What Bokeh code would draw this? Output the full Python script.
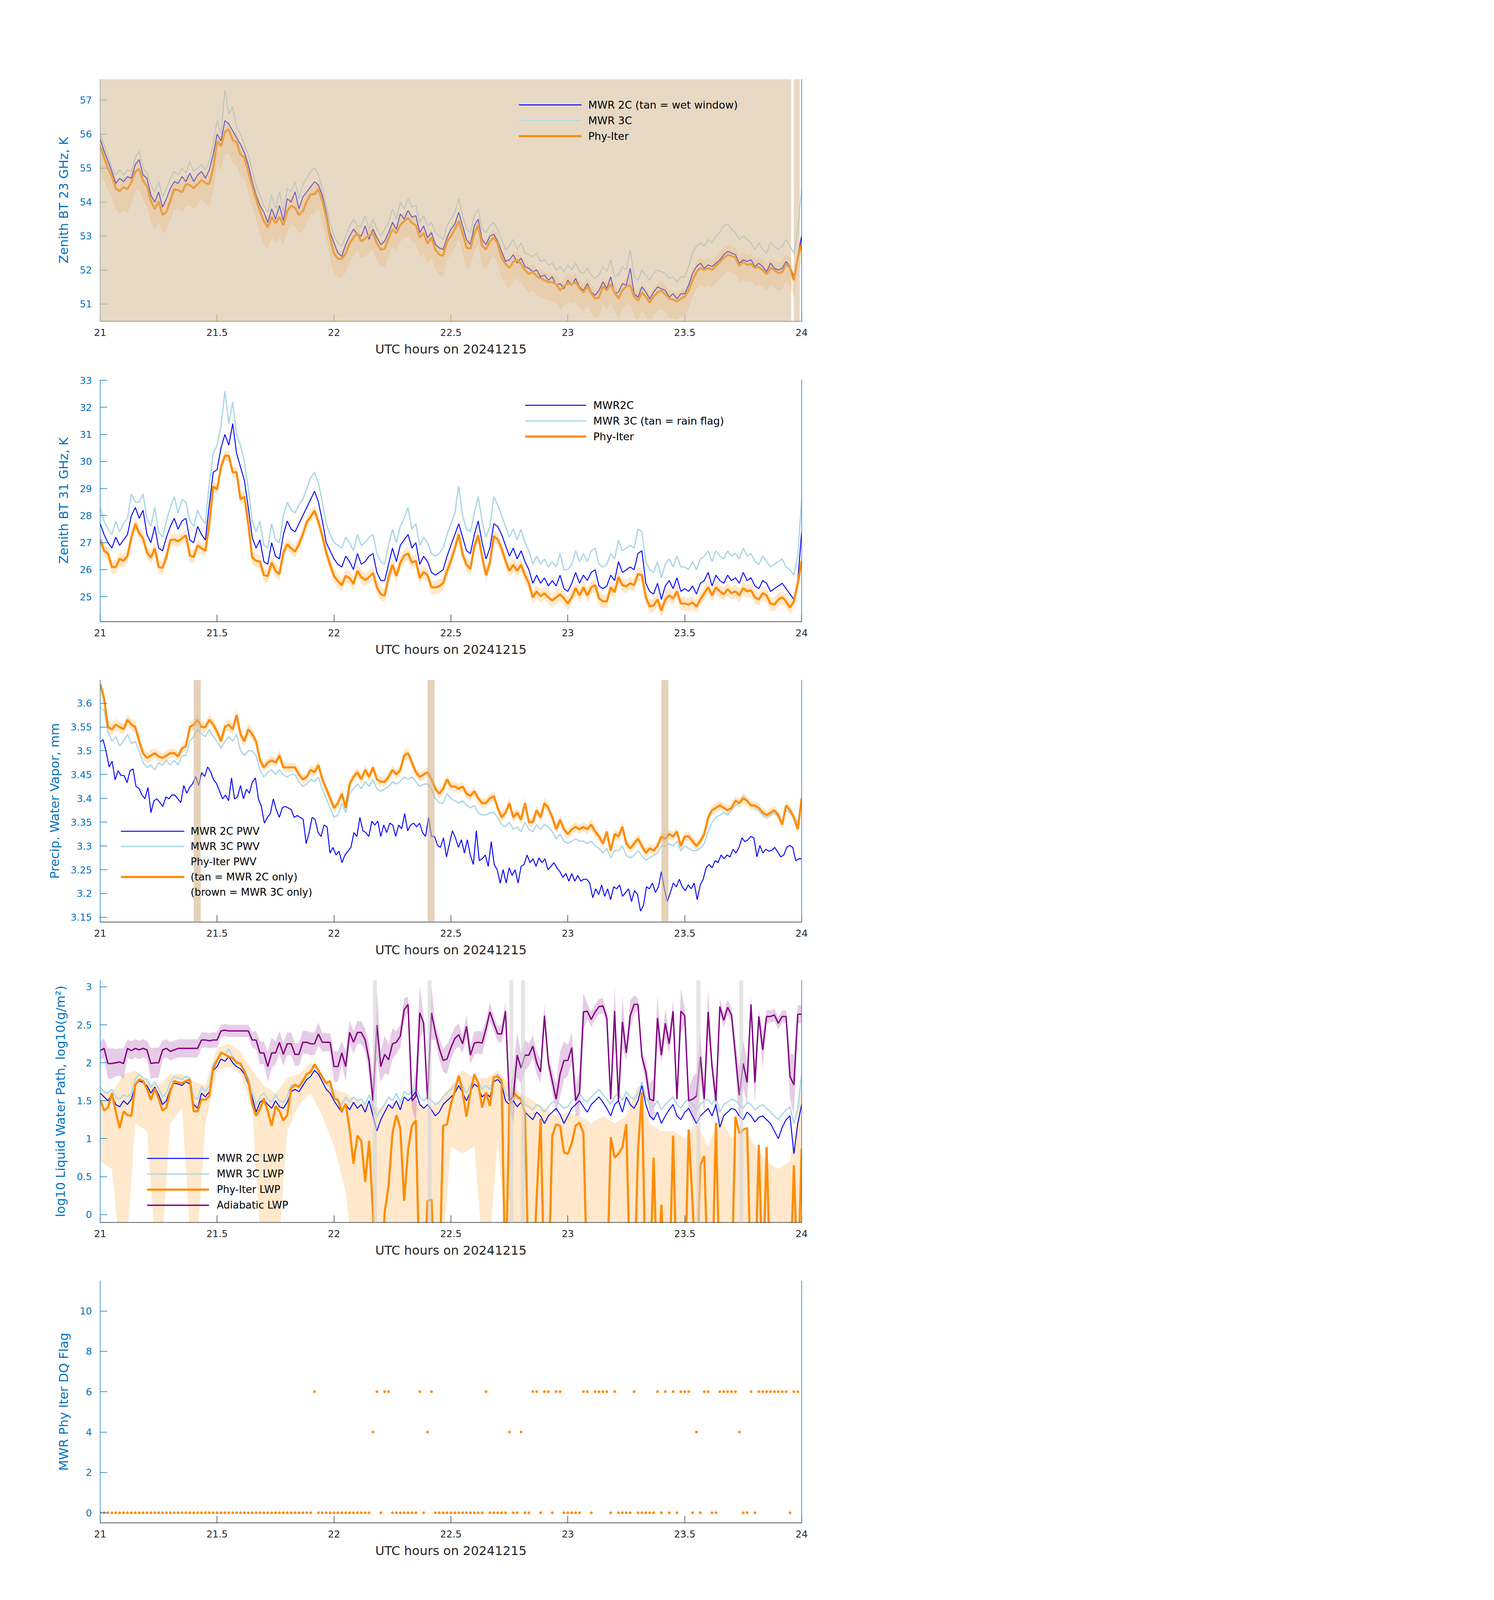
import numpy as np
from bokeh.plotting import figure
from bokeh.models import (Range1d, LinearAxis, FixedTicker, NumeralTickFormatter,
                          Legend, LegendItem, BoxAnnotation)
from bokeh.layouts import column
from bokeh.embed import file_html
from bokeh.resources import INLINE

# ======================= DATA =======================
x_ticks = [21, 21.5, 22, 22.5, 23, 23.5, 24]
x_label = "UTC hours on 20241215"

# ---- panel 1: 23 GHz brightness temperature (K), 1-min samples ----
bt23_phy = [
    55.64, 55.31, 55.0, 54.77, 54.4, 54.32, 54.44, 54.38, 54.59, 54.89,
    54.98, 54.62, 54.47, 54.04, 53.8, 54.02, 53.62, 53.71, 54.04, 54.38,
    54.35, 54.29, 54.53, 54.5, 54.41, 54.53, 54.65, 54.56, 54.53, 55.0,
    55.79, 55.64, 56.06, 56.14, 55.82, 55.77, 55.4, 55.31, 54.89, 54.47,
    54.1, 53.74, 53.44, 53.26, 53.56, 53.38, 53.56, 53.32, 53.74, 53.89,
    53.83, 53.62, 53.74, 54.02, 54.23, 54.23, 54.38, 54.04, 53.56, 52.96,
    52.48, 52.33, 52.33, 52.48, 52.78, 52.96, 53.08, 52.84, 52.93, 53.02,
    53.08, 52.78, 52.6, 52.63, 52.93, 53.2, 53.08, 53.32, 53.44, 53.53,
    53.38, 53.32, 52.96, 53.08, 52.78, 52.96, 52.6, 52.45, 52.42, 52.84,
    52.99, 53.2, 53.44, 53.08, 52.66, 52.63, 53.08, 53.32, 52.72, 52.6,
    52.84, 52.96, 52.78, 52.36, 52.18, 52.06, 52.24, 52.3, 52.18, 52.0,
    51.88, 51.94, 51.82, 51.76, 51.7, 51.64, 51.64, 51.58, 51.4, 51.52,
    51.61, 51.58, 51.64, 51.46, 51.34, 51.52, 51.31, 51.16, 51.19, 51.52,
    51.4, 51.58, 51.34, 51.16, 51.4, 51.52, 51.55, 51.22, 51.1, 51.34,
    51.22, 51.04, 51.22, 51.34, 51.4, 51.28, 51.16, 51.13, 51.07, 51.16,
    51.22, 51.4, 51.7, 51.94, 52.06, 52.0, 52.06, 52.0, 52.12, 52.24,
    52.36, 52.45, 52.42, 52.36, 52.12, 52.24, 52.15, 52.18, 52.06, 52.09,
    52.0, 51.88, 52.06, 52.0, 51.91, 51.94, 52.18, 52.06, 51.7, 52.36,
    52.78]
bt23_phy_lo = [
    0.75, 0.7, 0.65, 0.6, 0.6, 0.65, 0.7, 0.7, 0.65, 0.6,
    0.6, 0.6, 0.6, 0.6, 0.65, 0.6, 0.55, 0.55, 0.6, 0.6,
    0.55, 0.6, 0.65, 0.6, 0.6, 0.6, 0.55, 0.6, 0.65, 0.7,
    0.7, 0.7, 0.65, 0.7, 0.7, 0.7, 0.65, 0.6, 0.6, 0.6,
    0.6, 0.65, 0.7, 0.65, 0.6, 0.6, 0.6, 0.6, 0.6, 0.55,
    0.55, 0.55, 0.6, 0.6, 0.6, 0.55, 0.55, 0.6, 0.6, 0.6,
    0.6, 0.57, 0.55, 0.55, 0.55, 0.55, 0.5, 0.5, 0.55, 0.5,
    0.5, 0.5, 0.5, 0.55, 0.55, 0.5, 0.5, 0.5, 0.5, 0.55,
    0.55, 0.55, 0.6, 0.6, 0.6, 0.6, 0.6, 0.6, 0.6, 0.55,
    0.55, 0.55, 0.55, 0.6, 0.6, 0.55, 0.5, 0.55, 0.6, 0.6,
    0.55, 0.55, 0.6, 0.6, 0.6, 0.6, 0.55, 0.55, 0.55, 0.55,
    0.55, 0.55, 0.55, 0.55, 0.55, 0.55, 0.56, 0.56, 0.56, 0.56,
    0.56, 0.56, 0.56, 0.56, 0.58, 0.58, 0.58, 0.58, 0.56, 0.56,
    0.56, 0.56, 0.58, 0.58, 0.56, 0.56, 0.56, 0.58, 0.58, 0.56,
    0.55, 0.55, 0.55, 0.55, 0.55, 0.55, 0.55, 0.55, 0.55, 0.55,
    0.55, 0.55, 0.5, 0.5, 0.5, 0.5, 0.5, 0.5, 0.5, 0.5,
    0.5, 0.5, 0.5, 0.5, 0.52, 0.52, 0.5, 0.5, 0.52, 0.52,
    0.5, 0.5, 0.5, 0.52, 0.52, 0.5, 0.5, 0.5, 0.52, 0.5,
    0.5]
bt23_phy_hi = [
    0.45, 0.4, 0.35, 0.3, 0.3, 0.3, 0.3, 0.3, 0.3, 0.3,
    0.3, 0.3, 0.28, 0.28, 0.3, 0.3, 0.3, 0.28, 0.28, 0.3,
    0.3, 0.3, 0.28, 0.3, 0.3, 0.3, 0.28, 0.3, 0.3, 0.3,
    0.3, 0.3, 0.25, 0.25, 0.25, 0.25, 0.3, 0.3, 0.3, 0.3,
    0.28, 0.28, 0.28, 0.28, 0.28, 0.28, 0.28, 0.28, 0.28, 0.28,
    0.28, 0.28, 0.28, 0.28, 0.28, 0.28, 0.28, 0.28, 0.28, 0.28,
    0.25, 0.25, 0.25, 0.25, 0.25, 0.25, 0.25, 0.25, 0.25, 0.25,
    0.25, 0.25, 0.25, 0.25, 0.25, 0.25, 0.25, 0.25, 0.25, 0.25,
    0.25, 0.25, 0.25, 0.25, 0.25, 0.25, 0.25, 0.25, 0.25, 0.25,
    0.25, 0.25, 0.25, 0.25, 0.25, 0.25, 0.25, 0.25, 0.25, 0.25,
    0.25, 0.25, 0.25, 0.25, 0.25, 0.25, 0.25, 0.25, 0.25, 0.25,
    0.25, 0.25, 0.25, 0.25, 0.25, 0.25, 0.25, 0.25, 0.25, 0.25,
    0.25, 0.25, 0.25, 0.25, 0.25, 0.25, 0.25, 0.25, 0.25, 0.25,
    0.25, 0.25, 0.25, 0.25, 0.25, 0.25, 0.25, 0.25, 0.25, 0.25,
    0.25, 0.25, 0.25, 0.25, 0.25, 0.25, 0.25, 0.25, 0.25, 0.25,
    0.25, 0.25, 0.3, 0.3, 0.3, 0.3, 0.3, 0.3, 0.3, 0.3,
    0.3, 0.3, 0.3, 0.3, 0.3, 0.3, 0.3, 0.3, 0.3, 0.3,
    0.3, 0.3, 0.3, 0.3, 0.3, 0.3, 0.3, 0.3, 0.3, 0.3,
    0.3]
bt23_mwr2c = [
    55.85, 55.5, 55.2, 54.9, 54.55, 54.7, 54.6, 54.75, 54.7, 55.1,
    55.25, 54.8, 54.7, 54.2, 54.0, 54.3, 53.85, 54.1, 54.4, 54.6,
    54.55, 54.75, 54.6, 54.85, 54.6, 54.8, 54.9, 54.7, 54.95, 55.4,
    56.0, 55.8, 56.4, 56.3, 56.1, 55.9, 55.7, 55.45, 55.1, 54.6,
    54.2, 53.9, 53.7, 53.4, 53.8, 53.5, 53.9, 53.45, 54.1, 54.0,
    54.3, 53.8, 54.15, 54.3, 54.45, 54.6, 54.5, 54.2, 53.7, 53.1,
    52.8, 52.5, 52.4, 52.75, 53.0, 53.2, 53.05, 53.0, 53.3, 52.9,
    53.2, 52.95, 52.75, 52.85, 53.1, 53.4, 53.2, 53.65, 53.5, 53.75,
    53.55, 53.6, 53.1, 53.3, 52.95, 53.1, 52.75, 52.65, 52.6, 52.95,
    53.2, 53.35, 53.7, 53.3, 52.9, 52.75, 53.3, 53.5, 52.9, 52.75,
    53.0, 53.05, 52.85, 52.55, 52.25, 52.3, 52.45, 52.2, 52.35, 52.1,
    52.05, 51.95, 52.0, 51.8, 51.85, 51.7, 51.8, 51.55, 51.6, 51.45,
    51.7, 51.55, 51.75, 51.5, 51.4, 51.6, 51.35, 51.25, 51.4, 51.65,
    51.45, 51.8, 51.3, 51.35, 51.6, 51.55, 52.05, 51.3, 51.2, 51.5,
    51.35, 51.15, 51.35, 51.5, 51.45, 51.4, 51.2, 51.3, 51.15, 51.3,
    51.3, 51.55, 51.9, 52.1, 52.2, 52.05, 52.15, 52.1, 52.2, 52.3,
    52.45, 52.55, 52.5, 52.45, 52.2, 52.3, 52.25, 52.3, 52.1, 52.2,
    52.1, 51.95, 52.2, 52.05, 52.0, 52.05, 52.25, 52.1, 51.8, 52.4,
    53.0]
bt23_mwr3c = [
    56.0, 55.7, 55.35, 55.0, 54.8, 54.95, 54.8, 54.95, 54.9, 55.3,
    55.5, 55.0, 54.85, 54.5, 54.3, 54.6, 54.15, 54.4, 54.7, 54.9,
    54.8, 55.0, 54.85, 55.2, 54.9, 55.0, 55.1, 54.95, 55.2, 55.7,
    56.4, 56.0, 57.3, 56.6, 56.8, 56.2, 56.0, 55.7, 55.4, 54.9,
    54.5, 54.2, 53.9, 53.7, 54.2, 53.8, 54.3, 53.7, 54.4, 54.3,
    54.6, 54.1, 54.5, 54.7, 54.9, 55.0, 54.8, 54.4, 53.9, 53.4,
    53.0, 52.8, 52.7, 53.0, 53.3, 53.5, 53.3, 53.3, 53.6, 53.2,
    53.5, 53.2, 53.0, 53.2, 53.4, 53.8, 53.5, 54.0, 53.8, 54.1,
    53.85, 53.9, 53.4, 53.6, 53.3, 53.4, 53.1, 53.0, 52.9, 53.3,
    53.5, 53.7, 54.1, 53.6, 53.2, 53.1, 53.6, 53.8, 53.2, 53.1,
    53.3, 53.4, 53.2, 52.9, 52.6, 52.7, 52.9, 52.6, 52.8, 52.5,
    52.45, 52.4, 52.5, 52.25, 52.3, 52.15, 52.2, 52.0, 52.1, 51.95,
    52.15, 52.0, 52.2, 51.95, 51.9, 52.05, 51.85, 51.75, 51.85, 52.1,
    51.95, 52.3, 51.8, 51.85, 52.1, 52.0, 52.6, 51.8, 51.7, 52.0,
    51.85, 51.7, 51.9, 52.0, 51.95, 51.9, 51.75, 51.8, 51.65, 51.8,
    51.8, 52.1, 52.5, 52.7, 52.8, 52.7, 52.9, 52.8, 53.0, 53.1,
    53.3, 53.35, 53.2, 53.1, 52.9, 53.0, 52.9, 52.8, 52.6, 52.8,
    52.6, 52.5, 52.8, 52.7, 52.6, 52.7, 52.9, 52.7, 52.5, 53.2,
    54.4]
wet_start = [21.0, 23.966]
wet_end = [23.955, 23.992]

# ---- panel 2: 31 GHz brightness temperature (K), 1-min samples ----
bt31_phy = [
    27.12, 26.7, 26.6, 26.1, 26.1, 26.4, 26.33, 26.5, 27.2, 27.69,
    27.35, 27.16, 26.63, 26.45, 26.79, 26.1, 26.07, 26.48, 27.09, 27.12,
    27.05, 27.16, 27.27, 26.52, 26.48, 26.9, 26.79, 26.7, 27.69, 29.08,
    28.97, 29.8, 30.21, 30.21, 29.6, 29.6, 28.6, 28.7, 27.69, 26.45,
    26.33, 26.3, 25.8, 25.77, 26.26, 25.96, 25.84, 26.63, 26.94, 26.79,
    26.67, 26.94, 27.31, 27.76, 27.95, 28.18, 27.76, 27.24, 26.63, 26.18,
    25.77, 25.58, 25.43, 25.77, 25.69, 25.47, 25.96, 25.73, 25.62, 25.73,
    25.88, 25.35, 25.09, 25.05, 25.73, 26.18, 25.77, 26.26, 26.52, 26.6,
    26.26, 26.33, 25.69, 25.92, 25.8, 25.35, 25.35, 25.39, 25.5, 25.96,
    26.33, 26.79, 27.31, 26.56, 26.18, 26.03, 26.86, 27.27, 26.48, 25.8,
    26.26, 27.24, 27.12, 26.79, 26.33, 25.96, 26.18, 25.96, 26.18, 25.8,
    25.5, 24.98, 25.2, 25.02, 25.13, 24.98, 24.86, 24.98, 25.09, 24.94,
    24.75, 24.98, 25.32, 25.05, 25.35, 25.05, 25.35, 25.43, 24.94, 24.83,
    24.83, 25.35, 25.17, 25.73, 25.43, 25.39, 25.5, 25.43, 25.84, 25.8,
    24.98, 24.64, 24.68, 24.9, 24.49, 24.9, 25.05, 24.94, 25.2, 24.75,
    24.75, 24.71, 24.79, 24.64, 24.9, 25.13, 25.35, 25.05, 25.35, 25.2,
    25.09, 25.28, 25.13, 25.2, 25.05, 25.32, 25.2, 25.24, 24.98, 24.9,
    25.13, 25.05, 24.75, 24.71, 24.9, 24.98, 24.83, 24.6, 24.83, 25.5,
    26.33]
bt31_phy_err = [
    0.25, 0.25, 0.25, 0.25, 0.25, 0.25, 0.25, 0.25, 0.22, 0.22,
    0.22, 0.22, 0.22, 0.25, 0.25, 0.25, 0.25, 0.25, 0.22, 0.22,
    0.22, 0.22, 0.22, 0.25, 0.25, 0.22, 0.22, 0.22, 0.22, 0.2,
    0.2, 0.2, 0.2, 0.2, 0.2, 0.2, 0.2, 0.2, 0.22, 0.25,
    0.25, 0.25, 0.25, 0.25, 0.25, 0.25, 0.25, 0.22, 0.22, 0.22,
    0.22, 0.22, 0.22, 0.2, 0.2, 0.2, 0.2, 0.22, 0.22, 0.25,
    0.25, 0.25, 0.25, 0.25, 0.25, 0.25, 0.25, 0.25, 0.25, 0.25,
    0.25, 0.25, 0.25, 0.25, 0.25, 0.25, 0.25, 0.25, 0.25, 0.25,
    0.25, 0.25, 0.25, 0.25, 0.25, 0.25, 0.25, 0.25, 0.25, 0.25,
    0.25, 0.22, 0.22, 0.22, 0.25, 0.25, 0.22, 0.22, 0.25, 0.25,
    0.25, 0.22, 0.22, 0.22, 0.25, 0.25, 0.25, 0.25, 0.25, 0.25,
    0.25, 0.25, 0.25, 0.25, 0.25, 0.25, 0.25, 0.25, 0.25, 0.25,
    0.25, 0.25, 0.25, 0.25, 0.25, 0.25, 0.25, 0.25, 0.25, 0.25,
    0.25, 0.25, 0.25, 0.25, 0.25, 0.25, 0.25, 0.25, 0.25, 0.25,
    0.25, 0.25, 0.25, 0.25, 0.25, 0.25, 0.25, 0.25, 0.25, 0.25,
    0.25, 0.25, 0.25, 0.25, 0.25, 0.25, 0.25, 0.25, 0.25, 0.25,
    0.25, 0.25, 0.25, 0.25, 0.25, 0.25, 0.25, 0.25, 0.25, 0.25,
    0.25, 0.25, 0.25, 0.25, 0.25, 0.25, 0.25, 0.25, 0.25, 0.25,
    0.25]
bt31_mwr2c = [
    27.7, 27.3, 27.0, 26.8, 27.2, 26.9, 27.1, 27.3, 28.0, 28.3,
    27.9, 28.2, 27.3, 27.0, 27.6, 26.8, 26.7, 27.2, 27.6, 27.9,
    27.5, 27.8, 27.9, 27.1, 27.0, 27.6, 27.3, 27.1, 28.4, 29.6,
    29.7, 30.5, 31.0, 30.6, 31.4, 30.3, 29.8, 29.3, 28.3, 27.2,
    26.8, 27.1, 26.3, 26.2, 27.0, 26.5, 26.4, 27.3, 27.8, 27.5,
    27.4, 27.7, 28.0, 28.3, 28.6, 28.9, 28.5, 27.8, 27.0, 26.7,
    26.4, 26.2, 26.1, 26.5, 26.3, 26.0, 26.6, 26.2, 26.3, 26.5,
    26.6, 25.9, 25.6, 25.6, 26.2, 26.8, 26.3, 26.9, 27.1, 27.3,
    26.8, 27.0, 26.2, 26.5, 26.3, 25.9, 25.8, 25.9, 26.0, 26.5,
    26.9, 27.3, 27.7, 27.2, 26.7, 26.6, 27.3, 27.8, 27.0, 26.4,
    26.8, 27.7, 27.6, 27.3, 26.9, 26.5, 26.8, 26.4, 26.7, 26.3,
    26.0, 25.5, 25.8, 25.5, 25.7, 25.4, 25.6, 25.4, 25.8, 25.3,
    25.2, 25.5, 25.9, 25.5, 25.8, 25.6, 25.9, 26.0, 25.4, 25.3,
    25.4, 25.8, 25.6, 26.3, 25.9, 26.0, 26.1, 26.0, 26.6, 26.7,
    25.5, 25.2, 25.1, 25.5, 24.9, 25.4, 25.6, 25.3, 25.7, 25.2,
    25.3, 25.2, 25.4, 25.1, 25.5, 25.6, 25.9, 25.4, 25.8, 25.6,
    25.5, 25.8, 25.6, 25.7, 25.5, 25.9, 25.6, 25.7, 25.4, 25.3,
    25.6, 25.5, 25.2, 25.3, 25.4, 25.5, 25.3, 25.1, 24.9, 25.6,
    27.4]
bt31_mwr3c = [
    28.3, 27.8, 27.5, 27.3, 27.8, 27.4, 27.7, 27.9, 28.8, 28.5,
    28.5, 28.8, 27.9, 27.6, 28.3, 27.4, 27.2, 27.8, 28.3, 28.7,
    28.1, 28.6, 28.5, 27.8, 27.6, 28.2, 27.9, 27.7, 29.2, 30.3,
    30.6, 31.3, 32.6, 31.4, 32.2, 31.0, 30.6, 30.0, 29.0, 27.8,
    27.4, 27.8, 26.9, 26.8, 27.7, 27.1, 27.0, 28.0, 28.5, 28.2,
    28.1, 28.4, 28.6, 29.0, 29.4, 29.6, 29.2, 28.5, 27.7, 27.3,
    27.0, 26.9, 26.8, 27.2, 27.0, 26.7, 27.3, 26.9, 27.0, 27.2,
    27.3, 26.6, 26.3, 26.2, 26.9, 27.5, 27.0, 27.6, 27.9, 28.3,
    27.5, 27.7, 26.9, 27.2, 27.0, 26.6, 26.5, 26.6, 26.8, 27.3,
    27.7, 28.1, 29.1, 28.0, 27.5, 27.4, 28.1, 28.7, 27.8, 27.2,
    27.6, 28.7, 28.4, 28.0, 27.6, 27.2, 27.5, 27.1, 27.5, 27.0,
    26.7, 26.2, 26.5, 26.2, 26.4, 26.1, 26.3, 26.1, 26.6, 26.0,
    26.0, 26.2, 26.7, 26.3, 26.6, 26.3, 26.7, 26.8, 26.2, 26.1,
    26.2, 26.6, 26.4, 27.1, 26.7, 26.8, 26.9, 26.8, 27.5, 27.4,
    26.3, 26.0, 25.9, 26.3, 25.7, 26.2, 26.4, 26.1, 26.5, 26.1,
    26.1, 26.0, 26.3, 26.0, 26.4, 26.5, 26.7, 26.3, 26.7, 26.5,
    26.4, 26.7, 26.5, 26.6, 26.4, 26.8, 26.5, 26.6, 26.3, 26.2,
    26.5, 26.3, 26.1, 26.2, 26.3, 26.4, 26.1, 26.0, 25.8, 26.5,
    28.6]

# ---- panel 3: precipitable water vapour (mm) ----
pwv_phy = [
    3.64, 3.61, 3.55, 3.545, 3.555, 3.55, 3.545, 3.565, 3.555, 3.55,
    3.52, 3.495, 3.485, 3.49, 3.495, 3.488, 3.485, 3.49, 3.495, 3.495,
    3.488, 3.505, 3.51, 3.55, 3.555, 3.565, 3.55, 3.55, 3.565, 3.555,
    3.54, 3.52, 3.55, 3.555, 3.545, 3.575, 3.535, 3.52, 3.545, 3.535,
    3.52, 3.48, 3.465, 3.475, 3.48, 3.475, 3.49, 3.465, 3.465, 3.465,
    3.465, 3.45, 3.44, 3.445, 3.46, 3.455, 3.47, 3.44, 3.42, 3.4,
    3.38, 3.39, 3.41, 3.38, 3.43, 3.445, 3.455, 3.44, 3.46, 3.445,
    3.465, 3.44, 3.435, 3.435, 3.445, 3.46, 3.45, 3.46, 3.49, 3.495,
    3.475, 3.455, 3.445, 3.45, 3.455, 3.44, 3.42, 3.41, 3.42, 3.44,
    3.425, 3.425, 3.42, 3.425, 3.41, 3.405, 3.415, 3.4, 3.39, 3.39,
    3.4, 3.405, 3.38, 3.36, 3.37, 3.39, 3.36, 3.37, 3.355, 3.39,
    3.35, 3.35, 3.375, 3.36, 3.39, 3.38, 3.36, 3.335, 3.355, 3.335,
    3.325, 3.335, 3.34, 3.335, 3.34, 3.335, 3.345, 3.33, 3.32, 3.305,
    3.33, 3.29, 3.325, 3.32, 3.34, 3.305, 3.295, 3.305, 3.315, 3.3,
    3.285, 3.295, 3.29, 3.3, 3.32, 3.315, 3.325, 3.32, 3.33, 3.3,
    3.32, 3.32, 3.31, 3.3, 3.31, 3.325, 3.36, 3.375, 3.38, 3.385,
    3.38, 3.375, 3.38, 3.395, 3.39, 3.4, 3.395, 3.385, 3.385, 3.38,
    3.37, 3.365, 3.37, 3.375, 3.365, 3.345, 3.385, 3.375, 3.36, 3.335,
    3.4]
pwv_phy_err = [
    0.015, 0.015, 0.015, 0.012, 0.012, 0.012, 0.012, 0.012, 0.012, 0.012,
    0.012, 0.012, 0.012, 0.012, 0.01, 0.01, 0.01, 0.01, 0.01, 0.01,
    0.01, 0.01, 0.01, 0.012, 0.012, 0.012, 0.012, 0.012, 0.012, 0.012,
    0.012, 0.012, 0.012, 0.012, 0.012, 0.015, 0.012, 0.012, 0.012, 0.012,
    0.01, 0.01, 0.01, 0.01, 0.01, 0.01, 0.012, 0.01, 0.01, 0.01,
    0.01, 0.01, 0.01, 0.01, 0.01, 0.01, 0.01, 0.01, 0.01, 0.01,
    0.01, 0.01, 0.01, 0.01, 0.01, 0.01, 0.01, 0.01, 0.01, 0.01,
    0.01, 0.01, 0.01, 0.01, 0.01, 0.01, 0.01, 0.01, 0.012, 0.012,
    0.01, 0.01, 0.01, 0.01, 0.01, 0.01, 0.01, 0.01, 0.01, 0.01,
    0.01, 0.01, 0.01, 0.01, 0.01, 0.01, 0.01, 0.01, 0.01, 0.01,
    0.01, 0.01, 0.01, 0.01, 0.01, 0.012, 0.01, 0.01, 0.01, 0.012,
    0.01, 0.01, 0.01, 0.01, 0.012, 0.01, 0.01, 0.01, 0.01, 0.01,
    0.01, 0.01, 0.01, 0.01, 0.01, 0.01, 0.012, 0.01, 0.01, 0.01,
    0.01, 0.01, 0.01, 0.01, 0.012, 0.01, 0.01, 0.01, 0.01, 0.01,
    0.01, 0.01, 0.01, 0.01, 0.01, 0.01, 0.01, 0.01, 0.01, 0.01,
    0.01, 0.01, 0.01, 0.01, 0.01, 0.01, 0.01, 0.01, 0.01, 0.01,
    0.01, 0.01, 0.01, 0.01, 0.01, 0.012, 0.01, 0.01, 0.01, 0.01,
    0.01, 0.01, 0.01, 0.01, 0.01, 0.01, 0.01, 0.01, 0.01, 0.01,
    0.01]
pwv_mwr3c = [
    3.59, 3.585, 3.54, 3.52, 3.53, 3.51, 3.52, 3.535, 3.515, 3.52,
    3.5, 3.475, 3.465, 3.47, 3.46, 3.475, 3.47, 3.48, 3.47, 3.48,
    3.47, 3.49, 3.49, 3.52, 3.53, 3.545, 3.535, 3.53, 3.545, 3.53,
    3.52, 3.505, 3.52, 3.53, 3.52, 3.535, 3.5, 3.49, 3.5, 3.5,
    3.49, 3.46, 3.445, 3.455, 3.46, 3.45, 3.46, 3.45, 3.445, 3.45,
    3.45, 3.435, 3.425, 3.43, 3.44, 3.435, 3.445, 3.42, 3.4, 3.38,
    3.36, 3.365, 3.39, 3.37, 3.41, 3.42, 3.43, 3.42, 3.435, 3.425,
    3.44, 3.42, 3.415, 3.42, 3.425, 3.435, 3.43, 3.435, 3.445, 3.44,
    3.445, 3.435, 3.425, 3.43, 3.43, 3.42, 3.4, 3.39, 3.39, 3.41,
    3.4, 3.395, 3.39, 3.395, 3.385, 3.38, 3.385, 3.37, 3.365, 3.365,
    3.37, 3.37, 3.36, 3.345, 3.34, 3.35, 3.335, 3.34, 3.33, 3.35,
    3.335, 3.33, 3.345, 3.335, 3.345, 3.34, 3.33, 3.315, 3.325, 3.31,
    3.305, 3.31, 3.315, 3.31, 3.31, 3.305, 3.31, 3.3, 3.295, 3.285,
    3.295, 3.275, 3.29, 3.29, 3.3, 3.28, 3.275, 3.28, 3.29, 3.28,
    3.27, 3.275, 3.28, 3.285, 3.3, 3.3, 3.305, 3.3, 3.31, 3.29,
    3.3, 3.295, 3.29, 3.29, 3.295, 3.305, 3.33, 3.35, 3.36, 3.365,
    3.37, 3.365, 3.375, 3.385, 3.39, 3.405, 3.395, 3.385, 3.38, 3.375,
    3.365, 3.36, 3.365, 3.37, 3.36, 3.35, 3.375, 3.37, 3.36, 3.35,
    3.39]
pwv_mwr2c = [
    3.519, 3.523, 3.498, 3.466, 3.478, 3.439, 3.458, 3.448, 3.448, 3.433,
    3.458, 3.462, 3.425, 3.421, 3.407, 3.399, 3.423, 3.37, 3.395, 3.399,
    3.391, 3.383, 3.403, 3.399, 3.407, 3.407, 3.399, 3.391, 3.427, 3.411,
    3.423, 3.431, 3.446, 3.427, 3.454, 3.446, 3.466, 3.456, 3.439, 3.431,
    3.415, 3.399, 3.407, 3.395, 3.443, 3.399, 3.403, 3.427, 3.399, 3.419,
    3.411, 3.435, 3.443, 3.399, 3.383, 3.348, 3.36, 3.368, 3.399, 3.376,
    3.36, 3.38, 3.383, 3.38, 3.376, 3.36, 3.364, 3.36, 3.356, 3.305,
    3.328, 3.36, 3.356, 3.328, 3.32, 3.344, 3.34, 3.285, 3.297, 3.281,
    3.289, 3.265, 3.281, 3.289, 3.297, 3.328, 3.32, 3.36, 3.332, 3.328,
    3.32, 3.352, 3.344, 3.352, 3.32, 3.344, 3.328, 3.348, 3.344, 3.32,
    3.344, 3.336, 3.368, 3.332, 3.344, 3.348, 3.34, 3.348, 3.328, 3.32,
    3.36, 3.32, 3.32, 3.301, 3.297, 3.317, 3.277, 3.305, 3.332, 3.317,
    3.297, 3.313, 3.285, 3.313, 3.281, 3.261, 3.332, 3.269, 3.273, 3.281,
    3.257, 3.309, 3.261, 3.25, 3.222, 3.25, 3.222, 3.254, 3.238, 3.25,
    3.222, 3.257, 3.261, 3.281, 3.265, 3.273, 3.257, 3.275, 3.265, 3.273,
    3.25, 3.257, 3.265, 3.254, 3.246, 3.234, 3.242, 3.226, 3.242, 3.226,
    3.238, 3.226, 3.23, 3.23, 3.222, 3.191, 3.21, 3.198, 3.218, 3.194,
    3.21, 3.187, 3.214, 3.21, 3.218, 3.194, 3.202, 3.21, 3.183, 3.206,
    3.198, 3.163, 3.175, 3.214, 3.21, 3.222, 3.202, 3.214, 3.246, 3.21,
    3.183, 3.202, 3.222, 3.214, 3.23, 3.214, 3.206, 3.218, 3.21, 3.222,
    3.187, 3.218, 3.23, 3.254, 3.261, 3.254, 3.269, 3.265, 3.281, 3.273,
    3.281, 3.277, 3.293, 3.285, 3.297, 3.317, 3.309, 3.313, 3.32, 3.317,
    3.277, 3.301, 3.285, 3.293, 3.289, 3.291, 3.297, 3.287, 3.277, 3.281,
    3.297, 3.301, 3.297, 3.269, 3.273, 3.273]
only2c_start = [21.40, 22.40, 23.40]
only2c_end = [21.43, 22.43, 23.43]

# ---- panel 4: log10 liquid water path ----
lwp_phy = [
    1.51, 1.37, 1.41, 1.6, 1.36, 1.14, 1.36, 1.31, 1.3, 1.71,
    1.78, 1.76, 1.66, 1.51, 1.66, 1.53, 1.37, 1.41, 1.63, 1.76,
    1.74, 1.73, 1.76, 1.78, 1.36, 1.36, 1.52, 1.51, 1.56, 1.93,
    2.03, 2.13, 2.11, 2.08, 2.06, 2.0, 1.99, 1.88, 1.76, 1.46,
    1.3, 1.39, 1.53, 1.36, 1.17, 1.43, 1.36, 1.24, 1.31, 1.66,
    1.71, 1.68, 1.76, 1.85, 1.88, 1.98, 1.9, 1.81, 1.73, 1.76,
    1.53, 1.51, 1.36, 1.46, 1.12, 0.67, 1.04, 0.97, 0.43, 0.97,
    0.01, -1.0, -1.0, 0.03, 0.38, 1.07, 1.31, 1.14, 0.18, 0.85,
    1.17, 1.24, -1.0, -1.0, 0.18, 0.2, -1.0, -1.0, 1.17, 1.19,
    1.46, 1.63, 1.83, 1.61, 1.29, 1.61, 1.85, 1.73, 1.41, 1.61,
    1.43, 1.81, 1.82, 1.76, -1.0, 1.43, 1.61, 1.56, 1.51, 1.34,
    -1.0, -1.0, 0.23, 1.26, -1.0, -1.0, 1.04, 1.19, 1.17, 0.82,
    0.8, 0.94, 1.17, 1.21, 1.07, -1.0, -1.0, -1.0, -1.0, -1.0,
    -1.0, 1.02, 0.75, 0.8, 0.89, 1.19, -1.0, -1.0, 0.85, 1.61,
    -1.0, -1.0, 0.75, -1.0, 0.13, -1.0, -1.0, 1.04, -1.0, -1.0,
    -1.0, 1.12, 0.15, -1.0, 0.65, 0.77, -1.0, -1.0, 1.21, -1.0,
    -1.0, -1.0, -1.0, 1.29, 1.07, 1.12, 1.14, -1.0, -1.0, 0.92,
    -1.0, 0.89, -1.0, -1.0, -1.0, -1.0, -1.0, -1.0, 0.65, -1.0,
    0.87]
# Phy-Iter LWP uncertainty envelope, 3-min samples
lwp_phy_band_lo = [
    0.7, 0.6, -1.0, 1.2, 1.1, -1.0, 1.2, 1.4, -1.0, 1.2,
    1.9, 1.95, 1.85, 1.4, -1.0, -1.0, 1.1, 1.45, 1.6, 1.3,
    0.9, 0.3, -1.0, -1.0, -1.0, -1.0, -1.0, -1.0, -1.0, -1.0,
    0.9, 0.8, 0.9, -1.0, 1.0, -1.0, -1.0, -1.0, -1.0, -1.0,
    -1.0, -1.0, -1.0, -1.0, -1.0, -1.0, -1.0, -1.0, -1.0, -1.0,
    -1.0, -1.0, -1.0, -1.0, -1.0, -1.0, -1.0, -1.0, -1.0, -1.0,
    -1.0]
lwp_phy_band_hi = [
    1.65, 1.6, 1.85, 1.9, 1.75, 1.7, 1.85, 1.85, 1.75, 1.7,
    2.2, 2.25, 2.15, 1.9, 1.7, 1.6, 1.8, 1.85, 2.0, 1.85,
    1.65, 1.6, 1.5, 1.45, 1.4, 1.45, 1.5, 1.5, 1.4, 1.5,
    1.7, 1.9, 1.8, 1.8, 1.9, 1.7, 1.6, 1.5, 1.4, 1.3,
    1.35, 1.3, 1.2, 1.3, 1.2, 1.3, 1.7, 1.2, 1.1, 1.1,
    1.0, 1.2, 0.9, 1.3, 1.0, 1.15, 0.9, 0.7, 0.6, 0.7,
    1.7]
lwp_mwr2c = [
    1.6, 1.55, 1.5, 1.58, 1.45, 1.42, 1.5, 1.45, 1.52, 1.7,
    1.76, 1.74, 1.7, 1.6, 1.68, 1.58, 1.45, 1.5, 1.66, 1.73,
    1.72, 1.7, 1.75, 1.72, 1.45, 1.4, 1.6, 1.55, 1.62, 1.9,
    1.95, 2.05, 2.02, 2.08, 2.0, 1.95, 1.92, 1.85, 1.72, 1.55,
    1.35, 1.48, 1.52, 1.45, 1.4, 1.5, 1.42, 1.4, 1.48, 1.62,
    1.65, 1.62, 1.7, 1.78, 1.82, 1.9, 1.85, 1.75, 1.65, 1.6,
    1.5, 1.42, 1.35, 1.45, 1.38, 1.48, 1.4, 1.45, 1.35, 1.5,
    1.3, 1.1, 1.25, 1.35, 1.45, 1.4, 1.5, 1.38, 1.55, 1.5,
    1.55, 1.62, 1.45, 1.4, 1.45, 1.38, 1.3, 1.35, 1.45, 1.5,
    1.55, 1.6, 1.7, 1.6, 1.5, 1.62, 1.72, 1.68, 1.55, 1.6,
    1.55, 1.75, 1.78, 1.72, 1.5, 1.45, 1.5, 1.42, 1.48, 1.35,
    1.3, 1.25, 1.35, 1.3, 1.2, 1.3, 1.35, 1.4, 1.32, 1.2,
    1.3, 1.4, 1.45, 1.5, 1.42, 1.35, 1.45, 1.5, 1.55, 1.48,
    1.4, 1.3, 1.45, 1.5, 1.35, 1.55, 1.45, 1.4, 1.5, 1.7,
    1.45, 1.3, 1.25, 1.35, 1.2, 1.3, 1.38, 1.45, 1.3, 1.25,
    1.35, 1.4, 1.3, 1.2, 1.3, 1.35, 1.4, 1.3, 1.45, 1.15,
    1.3, 1.35, 1.4, 1.38, 1.3, 1.25, 1.35, 1.3, 1.22, 1.28,
    1.3, 1.25, 1.2, 1.1, 1.0, 1.15, 1.25, 1.3, 0.8, 1.2,
    1.45]
lwp_mwr3c = [
    1.68, 1.62, 1.6, 1.65, 1.55, 1.52, 1.58, 1.55, 1.6, 1.78,
    1.85, 1.8, 1.78, 1.68, 1.75, 1.66, 1.55, 1.6, 1.75, 1.82,
    1.8, 1.78, 1.82, 1.8, 1.55, 1.52, 1.68, 1.62, 1.7, 1.98,
    2.05, 2.15, 2.1, 2.18, 2.08, 2.02, 1.98, 1.92, 1.8, 1.62,
    1.45, 1.55, 1.6, 1.52, 1.48, 1.58, 1.5, 1.48, 1.56, 1.7,
    1.72, 1.7, 1.78, 1.85, 1.9, 1.95, 1.9, 1.82, 1.72, 1.68,
    1.58, 1.5, 1.45, 1.55, 1.48, 1.55, 1.5, 1.52, 1.45, 1.58,
    1.42, 1.3, 1.38, 1.45, 1.55, 1.5, 1.6, 1.48, 1.62, 1.58,
    1.62, 1.68, 1.55, 1.5, 1.55, 1.5, 1.45, 1.48, 1.55, 1.6,
    1.65, 1.7, 1.78, 1.7, 1.6, 1.7, 1.8, 1.75, 1.65, 1.7,
    1.65, 1.8, 1.85, 1.78, 1.6, 1.55, 1.6, 1.52, 1.55, 1.45,
    1.42, 1.38, 1.45, 1.42, 1.35, 1.42, 1.48, 1.5, 1.45, 1.4,
    1.42, 1.5, 1.55, 1.6, 1.52, 1.48, 1.55, 1.6, 1.65, 1.58,
    1.52, 1.45, 1.55, 1.6, 1.5, 1.62, 1.55, 1.52, 1.6, 1.75,
    1.55, 1.45, 1.42, 1.5, 1.38, 1.45, 1.5, 1.55, 1.45, 1.4,
    1.48, 1.52, 1.45, 1.38, 1.45, 1.5, 1.52, 1.45, 1.55, 1.35,
    1.45, 1.48, 1.52, 1.5, 1.45, 1.4, 1.48, 1.45, 1.38, 1.42,
    1.45, 1.4, 1.35, 1.3, 1.25, 1.32, 1.38, 1.42, 1.2, 1.4,
    1.85]
lwp_adiab = [
    2.16, 2.19, 1.99, 1.99, 2.0, 2.01, 1.99, 2.19, 2.16, 2.19,
    2.17, 2.19, 2.17, 1.99, 2.0, 2.0, 2.17, 2.19, 2.15, 2.17,
    2.19, 2.19, 2.19, 2.19, 2.19, 2.19, 2.3, 2.3, 2.29, 2.3,
    2.3, 2.42, 2.43, 2.42, 2.42, 2.42, 2.42, 2.42, 2.42, 2.3,
    2.3, 2.13, 2.13, 1.95, 2.13, 2.13, 2.27, 2.11, 2.25, 2.25,
    2.11, 2.11, 2.27, 2.27, 2.25, 2.25, 2.38, 2.27, 2.27, 2.27,
    1.95, 1.95, 2.13, 1.95, 2.4, 2.27, 2.4, 2.4, 2.3, 2.03,
    1.5, 2.5, 1.95, 2.11, 2.04, 2.25, 2.27, 2.35, 2.7, 2.77,
    1.5, 1.56, 2.66, 2.52, 1.52, 2.66, 2.4, 2.19, 2.03, 2.05,
    2.2, 2.32, 2.37, 2.25, 2.48, 2.1, 2.26, 2.27, 2.26, 2.45,
    2.67, 2.52, 2.38, 2.38, 2.68, 1.5, 1.56, 2.1, 1.93, 2.1,
    2.1, 2.22, 2.0, 1.88, 2.62, 2.0, 1.76, 1.52, 1.85, 2.03,
    2.03, 2.2, 1.5, 1.61, 2.67, 2.68, 2.57, 2.67, 2.74, 2.75,
    2.59, 1.52, 2.68, 1.5, 2.54, 2.13, 2.62, 2.77, 2.77, 2.08,
    1.88, 1.52, 1.5, 2.59, 2.1, 2.52, 2.25, 2.68, 1.52, 2.68,
    2.62, 1.5, 1.52, 1.56, 2.08, 1.52, 2.67, 1.95, 1.5, 2.74,
    2.56, 2.73, 2.63, 2.1, 1.57, 1.99, 1.74, 2.77, 1.74, 2.61,
    2.17, 2.61, 2.61, 2.63, 2.52, 2.61, 2.61, 1.82, 1.71, 2.64,
    2.64]
lwp_adiab_err = [
    0.12, 0.13, 0.2, 0.2, 0.18, 0.18, 0.2, 0.12, 0.12, 0.12,
    0.12, 0.12, 0.12, 0.2, 0.2, 0.2, 0.12, 0.12, 0.12, 0.12,
    0.12, 0.12, 0.12, 0.12, 0.12, 0.12, 0.1, 0.1, 0.1, 0.1,
    0.1, 0.08, 0.08, 0.08, 0.08, 0.08, 0.08, 0.08, 0.08, 0.1,
    0.12, 0.15, 0.15, 0.2, 0.2, 0.15, 0.15, 0.15, 0.15, 0.15,
    0.15, 0.15, 0.15, 0.15, 0.15, 0.15, 0.15, 0.12, 0.12, 0.12,
    0.2, 0.2, 0.15, 0.2, 0.15, 0.15, 0.15, 0.15, 0.15, 0.2,
    0.3, 0.45, 0.2, 0.25, 0.2, 0.2, 0.15, 0.15, 0.15, 0.1,
    0.1, 0.35, 0.35, 0.1, 0.12, 0.35, 0.1, 0.15, 0.15, 0.2,
    0.15, 0.15, 0.15, 0.12, 0.15, 0.12, 0.15, 0.15, 0.15, 0.12,
    0.12, 0.1, 0.1, 0.12, 0.12, 0.1, 0.35, 0.3, 0.2, 0.2,
    0.15, 0.15, 0.15, 0.15, 0.15, 0.1, 0.15, 0.2, 0.3, 0.25,
    0.2, 0.2, 0.2, 0.3, 0.25, 0.1, 0.1, 0.1, 0.1, 0.1,
    0.08, 0.1, 0.35, 0.1, 0.35, 0.1, 0.2, 0.12, 0.08, 0.08,
    0.15, 0.2, 0.3, 0.3, 0.1, 0.2, 0.12, 0.15, 0.1, 0.3,
    0.1, 0.12, 0.3, 0.3, 0.3, 0.2, 0.3, 0.1, 0.2, 0.1,
    0.1, 0.1, 0.1, 0.2, 0.35, 0.3, 0.3, 0.1, 0.3, 0.08,
    0.25, 0.08, 0.08, 0.08, 0.08, 0.08, 0.08, 0.3, 0.4, 0.12,
    0.12]

# ---- panel 5: Phy-Iter data-quality flag, 1-min samples (None = no sample) ----
dq_flag = (
    [0] * 55 + [6] + [0] * 14 + [4, 6, 0, 6, 6] + [0] * 7 + [6, 0, 4, 6] + [0] * 13
    + [6] + [0] * 5 + [4, 0, 0, 4, 0, 0, 6, 6, 0, 6, 6, 0, 6, 6] + [0] * 5
    + [6, 6, 0, 6, 6, 6, 6, 0, 6, 0, 0, 0, 0, 6, 0, 0, 0, 0, 0, 6, 0, 6, 0, 6, 0,
       6, 6, 6, 0, 4, 0, 6, 6, 0, 0, 6, 6, 6, 6, 6, 4, 0, 0, 6, 0,
       6, 6, 6, 6, 6, 6, 6, 6, 0, 6, 6, None]
)

# ======================= STYLE / HELPERS =======================
# the photographed page is magnified ~1.463x, so CSS sizes are the
# reference pixel sizes divided by that factor
K = 1.0 / 1.463


def px(v):
    return v * K


def fs(v):
    return "%.1fpx" % (v * K)


FONT = "DejaVu Sans"
AX_BLUE = "#0072BD"
DARK = "#262626"
C_2C = "#0000FF"
C_3C = "#ADD8E6"
C_PHY = "#FF8C00"
C_ADI = "#800080"
C_TAN = "#D2B48C"

FRAME_W = round(px(2628))
FRAME_H = round(px(907))
B_LEFT = round(px(375))
B_BOTTOM = round(px(150))
B_TOP_FIRST = round(px(296))
B_TOP = round(px(1124.6)) - FRAME_H - B_BOTTOM


def tgrid(vals):
    n = len(vals)
    return 21.0 + 3.0 * np.arange(n) / (n - 1)


def arr(v):
    return np.array(v, dtype=float)


def make_panel(ylim, yticks, yfmt, ylabel, top,
               yline=AX_BLUE, xline=DARK):
    p = figure(frame_width=FRAME_W, frame_height=FRAME_H,
               x_range=Range1d(21, 24), y_range=Range1d(*ylim),
               output_backend="svg", toolbar_location=None,
               min_border_left=B_LEFT, min_border_right=round(px(120)),
               min_border_top=top, min_border_bottom=B_BOTTOM)
    p.xgrid.visible = False
    p.ygrid.visible = False
    p.outline_line_color = None
    p.background_fill_color = "white"
    p.border_fill_color = "white"

    xa = p.xaxis[0]
    xa.ticker = FixedTicker(ticks=x_ticks)
    xa.formatter = NumeralTickFormatter(format="0.[0]")
    xa.axis_line_color = xline
    xa.axis_line_width = px(2)
    xa.major_tick_line_color = xline
    xa.major_tick_line_width = px(2)
    xa.major_tick_in = round(px(27))
    xa.major_tick_out = 0
    xa.minor_tick_line_color = None
    xa.major_label_text_font = FONT
    xa.major_label_text_font_size = fs(36)
    xa.major_label_text_color = DARK
    xa.major_label_standoff = round(px(28))
    xa.axis_label = x_label
    xa.axis_label_text_font = FONT
    xa.axis_label_text_font_size = fs(47)
    xa.axis_label_text_font_style = "normal"
    xa.axis_label_text_color = DARK
    xa.axis_label_standoff = round(px(18))

    ya = p.yaxis[0]
    ya.ticker = FixedTicker(ticks=yticks)
    ya.formatter = NumeralTickFormatter(format=yfmt)
    ya.axis_line_color = yline
    ya.axis_line_width = px(2)
    ya.major_tick_line_color = yline
    ya.major_tick_line_width = px(2)
    ya.major_tick_in = round(px(26))
    ya.major_tick_out = 0
    ya.minor_tick_line_color = None
    ya.major_label_text_font = FONT
    ya.major_label_text_font_size = fs(36)
    ya.major_label_text_color = AX_BLUE
    ya.major_label_standoff = round(px(31))
    ya.axis_label = ylabel
    ya.axis_label_text_font = FONT
    ya.axis_label_text_font_size = fs(47)
    ya.axis_label_text_font_style = "normal"
    ya.axis_label_text_color = AX_BLUE
    ya.axis_label_standoff = round(px(28))

    ra = LinearAxis(ticker=FixedTicker(ticks=[]), axis_line_color=AX_BLUE,
                    axis_line_width=px(2), major_tick_line_color=None,
                    minor_tick_line_color=None,
                    major_label_text_font_size="1px")
    p.add_layout(ra, "right")
    return p


def add_legend(p, items, loc, glyph_w, standoff, font_px=39, row_h=58):
    leg = Legend(items=[LegendItem(label=l, renderers=[r]) for l, r in items],
                 location=(round(px(loc[0])), round(px(loc[1]))),
                 orientation="vertical",
                 glyph_width=round(px(glyph_w)), glyph_height=round(px(row_h)),
                 label_height=round(px(row_h)),
                 label_standoff=round(px(standoff)), spacing=0, padding=0, margin=0,
                 label_text_font=FONT, label_text_font_size=fs(font_px),
                 label_text_color="#000000",
                 background_fill_alpha=0, border_line_alpha=0)
    p.add_layout(leg)


LW_PHY = px(8)
LW_2C = px(3.5)
LW_3C = px(5)
LW_ADI = px(5)

# ======================= PANEL 1 =======================
p1 = make_panel((50.49, 57.62), [51, 52, 53, 54, 55, 56, 57], "0",
                "Zenith BT 23 GHz, K", B_TOP_FIRST, yline="#6690B0", xline="#7C6D59")
t = tgrid(bt23_phy)
ph = arr(bt23_phy)
p1.varea(x=t, y1=ph - arr(bt23_phy_lo), y2=ph + arr(bt23_phy_hi),
         fill_color=C_PHY, fill_alpha=0.2)
r13 = p1.line(tgrid(bt23_mwr3c), bt23_mwr3c, line_color=C_3C, line_width=px(4))
r12 = p1.line(tgrid(bt23_mwr2c), bt23_mwr2c, line_color=C_2C, line_width=LW_2C)
r1p = p1.line(t, ph, line_color=C_PHY, line_width=LW_PHY)
for a, b in zip(wet_start, wet_end):
    p1.add_layout(BoxAnnotation(left=a, right=b, fill_color=C_TAN, fill_alpha=0.5,
                                line_color=None))
add_legend(p1, [("MWR 2C (tan = wet window)", r12), ("MWR 3C", r13), ("Phy-Iter", r1p)],
           (1568, 664), 235, 25)

# ======================= PANEL 2 =======================
p2 = make_panel((24.08, 33.03), list(range(25, 34)), "0",
                "Zenith BT 31 GHz, K", B_TOP)
t = tgrid(bt31_phy)
ph = arr(bt31_phy)
e = arr(bt31_phy_err)
p2.varea(x=t, y1=ph - e, y2=ph + e, fill_color=C_PHY, fill_alpha=0.2)
r23 = p2.line(tgrid(bt31_mwr3c), bt31_mwr3c, line_color=C_3C, line_width=LW_3C)
r22 = p2.line(tgrid(bt31_mwr2c), bt31_mwr2c, line_color=C_2C, line_width=LW_2C)
r2p = p2.line(t, ph, line_color=C_PHY, line_width=LW_PHY)
add_legend(p2, [("MWR2C", r22), ("MWR 3C (tan = rain flag)", r23), ("Phy-Iter", r2p)],
           (1592, 664), 229, 27)

# ======================= PANEL 3 =======================
p3 = make_panel((3.140, 3.649), [3.15, 3.2, 3.25, 3.3, 3.35, 3.4, 3.45, 3.5, 3.55, 3.6],
                "0.[00]", "Precip. Water Vapor, mm", B_TOP)
t = tgrid(pwv_phy)
ph = arr(pwv_phy)
e = arr(pwv_phy_err)
p3.varea(x=t, y1=ph - e, y2=ph + e, fill_color=C_PHY, fill_alpha=0.2)
r33 = p3.line(tgrid(pwv_mwr3c), pwv_mwr3c, line_color=C_3C, line_width=LW_3C)
r32 = p3.line(tgrid(pwv_mwr2c), pwv_mwr2c, line_color=C_2C, line_width=LW_2C)
r3p = p3.line(t, ph, line_color=C_PHY, line_width=LW_PHY)
dummy_a = p3.line(x=[], y=[], line_alpha=0)
dummy_b = p3.line(x=[], y=[], line_alpha=0)
for a, b in zip(only2c_start, only2c_end):
    p3.add_layout(BoxAnnotation(left=a, right=b, fill_color=C_TAN, fill_alpha=0.6,
                                line_color=None))
add_legend(p3, [("MWR 2C PWV", r32), ("MWR 3C PWV", r33), ("Phy-Iter PWV", dummy_a),
                ("(tan = MWR 2C only)", r3p), ("(brown = MWR 3C only)", dummy_b)],
           (78, 84), 238, 23, font_px=38, row_h=57)

# ======================= PANEL 4 =======================
p4 = make_panel((-0.104, 3.087), [0, 0.5, 1, 1.5, 2, 2.5, 3], "0.[0]",
                "log10 Liquid Water Path, log10(g/m\u00b2)", B_TOP)
p4.varea(x=tgrid(lwp_phy_band_lo), y1=lwp_phy_band_lo, y2=lwp_phy_band_hi,
         fill_color=C_PHY, fill_alpha=0.2)
ad = arr(lwp_adiab)
ae = arr(lwp_adiab_err)
ta = tgrid(lwp_adiab)
p4.varea(x=ta, y1=ad - ae, y2=ad + ae, fill_color=C_ADI, fill_alpha=0.2)
r43 = p4.line(tgrid(lwp_mwr3c), lwp_mwr3c, line_color=C_3C, line_width=LW_3C)
r42 = p4.line(tgrid(lwp_mwr2c), lwp_mwr2c, line_color=C_2C, line_width=LW_2C)
r4p = p4.line(tgrid(lwp_phy), lwp_phy, line_color=C_PHY, line_width=LW_PHY)
r4a = p4.line(ta, ad, line_color=C_ADI, line_width=LW_ADI)
tf = tgrid(dq_flag)
fl = arr(dq_flag)
for ti, fv in zip(tf, fl):
    if fv == 4:
        p4.add_layout(BoxAnnotation(left=ti, right=ti + 1.0 / 60.0, fill_color="#D3D3D3",
                                    fill_alpha=0.6, line_color=None))
add_legend(p4, [("MWR 2C LWP", r42), ("MWR 3C LWP", r43), ("Phy-Iter LWP", r4p),
                ("Adiabatic LWP", r4a)], (175, 35), 232, 29, font_px=38)

# ======================= PANEL 5 =======================
p5 = make_panel((-0.5, 11.5), [0, 2, 4, 6, 8, 10], "0", "MWR Phy Iter DQ Flag", B_TOP)
p5.scatter(tf, fl, marker="circle", size=px(9), fill_color=C_PHY, line_color=C_PHY)

layout = column(p1, p2, p3, p4, p5, spacing=0)
open("out.html", "w").write(file_html(layout, INLINE))
